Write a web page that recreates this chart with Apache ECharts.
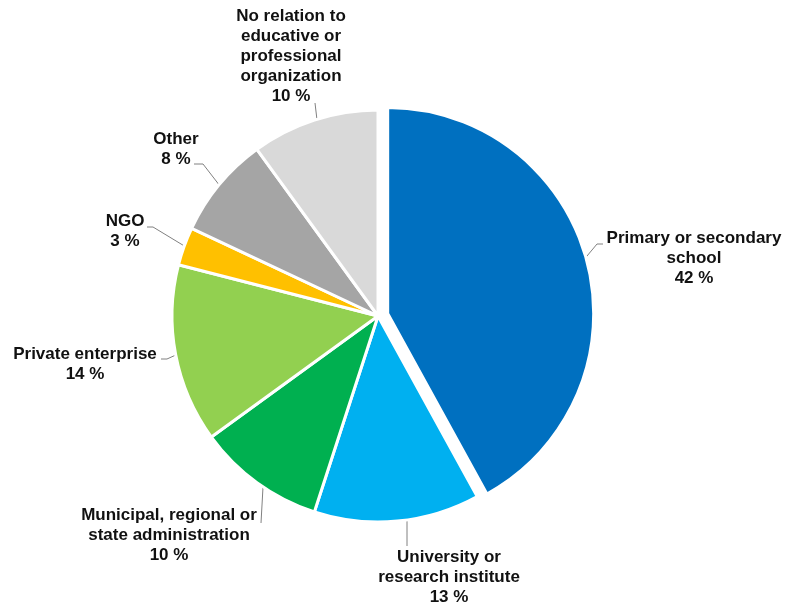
<!DOCTYPE html>
<html>
<head>
<meta charset="utf-8">
<script src="https://cdn.jsdelivr.net/npm/echarts@6/dist/echarts.min.js"></script>
<style>
html,body{margin:0;padding:0;background:#fff;}
#chart{width:785px;height:607px;}
</style>
</head>
<body>
<div id="chart"></div>
<script>
const categories = [
  "Primary or secondary\nschool",
  "University or\nresearch institute",
  "Municipal, regional or\nstate administration",
  "Private enterprise",
  "NGO",
  "Other",
  "No relation to\neducative or\nprofessional\norganization"
];
const values = [42, 13, 10, 14, 3, 8, 10];
const colors = ["#0070C0", "#00B0F0", "#00B050", "#92D050", "#FFC000", "#A5A5A5", "#D9D9D9"];

// label box centres (layout only)
const labelPos = [
  [694, 258],
  [449, 577],
  [169, 535],
  [85, 364],
  [125, 231],
  [176, 149],
  [291, 56]
];
// leader-line routing (layout only)
const guideLines = [
  [[582, 262], [597, 244], [603, 244]],
  [[407, 520], [407, 546]],
  [[263, 487], [261, 523]],
  [[178, 354], [167, 359], [161, 359]],
  [[186, 247], [153, 227], [147, 227]],
  [[220, 186], [203, 164], [194, 164]],
  [[317, 120], [315, 103]]
];

const CENTER = [378, 316];
const RADIUS = 206;
const EXPLODE = 10;

const total = values.reduce((a, b) => a + b, 0);
const midAngle = (values[0] / total) * Math.PI; // from 12 o'clock, clockwise
const explodedCenter = [CENTER[0] + EXPLODE * Math.sin(midAngle), CENTER[1] - EXPLODE * Math.cos(midAngle)];

const labelStyle = {
  show: true,
  position: 'outside',
  formatter: '{b}\n{c} %',
  fontFamily: 'Liberation Sans, Arial, sans-serif',
  fontWeight: 'bold',
  fontSize: 17,
  lineHeight: 20,
  color: '#111111',
  align: 'center',
  overflow: 'none'
};
const lineStyle = { show: true, length: 4, length2: 4, lineStyle: { color: '#808080', width: 1 } };

// main pie: every slice except the exploded one (kept as an empty slot)
const mainData = categories.map((name, i) => i === 0
  ? { name: name, value: values[i], itemStyle: { color: 'transparent', borderWidth: 0 }, label: { show: false }, labelLine: { show: false } }
  : { name: name, value: values[i], itemStyle: { color: colors[i] } });

// exploded slice drawn on its own, shifted along its mid-angle
const explodedData = [
  { name: categories[0], value: values[0], itemStyle: { color: colors[0] } },
  { name: 'rest', value: total - values[0], itemStyle: { color: 'transparent', borderWidth: 0 }, label: { show: false }, labelLine: { show: false } }
];

const common = {
  type: 'pie',
  left: 0, top: 0, width: 1200, height: 607,
  radius: RADIUS,
  startAngle: 90,
  clockwise: true,
  silent: true,
  itemStyle: { borderColor: '#ffffff', borderWidth: 3 },
  emphasis: { disabled: true },
  label: labelStyle,
  labelLine: lineStyle
};

const chart = echarts.init(document.getElementById('chart'), null, { renderer: 'canvas' });
chart.setOption({
  animation: false,
  series: [
    Object.assign({}, common, {
      center: CENTER,
      data: mainData,
      labelLayout: function (params) {
        const i = params.dataIndex;
        const p = labelPos[i];
        return { x: p[0], y: p[1], align: 'center', verticalAlign: 'middle', hideOverlap: false, moveOverlap: false, labelLinePoints: guideLines[i] };
      }
    }),
    Object.assign({}, common, {
      center: explodedCenter,
      data: explodedData,
      labelLayout: function (params) {
        const p = labelPos[0];
        return { x: p[0], y: p[1], align: 'center', verticalAlign: 'middle', hideOverlap: false, moveOverlap: false, labelLinePoints: guideLines[0] };
      }
    })
  ]
});
</script>
</body>
</html>
